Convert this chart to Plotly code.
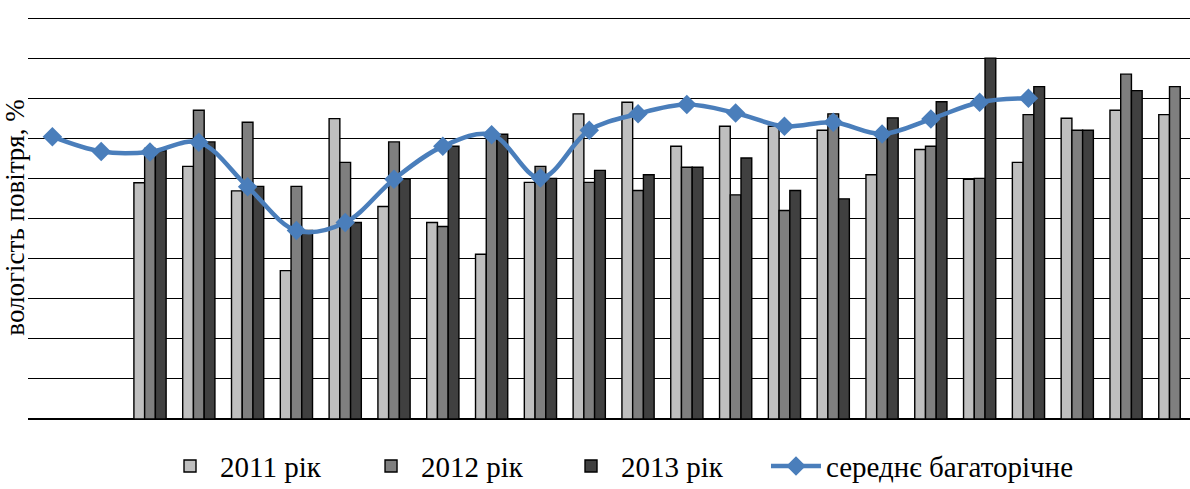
import plotly.graph_objects as go

# Periods (dekads) 1..24
periods = list(range(1, 25))

y2011 = [None, None, 58.9, 63.0, 56.9, 37.0, 74.9, 53.0, 49.0, 41.1, 59.0, 76.1,
         79.0, 68.0, 73.0, 73.0, 72.0, 60.9, 67.2, 59.8, 64.0, 75.0, 77.0, 75.9]
y2012 = [None, None, 67.5, 77.0, 74.0, 58.0, 64.0, 69.1, 48.0, 71.0, 63.0, 59.0,
         57.0, 62.8, 55.9, 52.0, 76.1, 71.5, 68.0, 60.0, 75.9, 72.0, 86.0, 82.9]
y2013 = [None, None, 66.9, 69.1, 58.0, 47.0, 49.0, 59.9, 68.0, 71.0, 60.0, 62.0,
         60.9, 62.8, 65.1, 57.0, 54.9, 75.1, 79.1, 90.0, 82.9, 72.0, 81.9, None]
mean_long = [70.4, 66.7, 66.6, 69.0, 57.9, 47.0, 49.0, 59.8, 68.0, 70.9, 60.1, 72.0,
             76.1, 78.4, 76.3, 73.0, 74.0, 71.1, 74.8, 79.0, 80.0, None, None, None]

names = ["2011 рік", "2012 рік", "2013 рік", "середнє багаторічне"]
bar_colors = ["#BFBFBF", "#7F7F7F", "#404040"]
line_color = "#4A7EBB"
font_family = "Liberation Serif"
legend_ids = ["legend", "legend2", "legend3", "legend4"]
legend_x = [0.1136, 0.2866, 0.4587, 0.6351]

fig = go.Figure()
for vals, nm, col, lg in zip([y2011, y2012, y2013], names[:3], bar_colors, legend_ids[:3]):
    fig.add_trace(go.Bar(x=periods, y=vals, name=nm, legend=lg,
                         marker=dict(color=col, line=dict(color="black", width=1.4))))

fig.add_trace(go.Scatter(x=periods, y=mean_long, name=names[3], mode="lines+markers",
                         legend=legend_ids[3],
                         line=dict(color=line_color, width=4.5, shape="spline", smoothing=1),
                         marker=dict(symbol="diamond", size=15, color=line_color)))

legend_common = dict(orientation="h", xanchor="left", y=-0.117, yanchor="middle",
                     font=dict(family=font_family, size=29, color="black"),
                     bgcolor="rgba(0,0,0,0)", itemwidth=50)
layout_legends = {lg: dict(x=lx, **legend_common) for lg, lx in zip(legend_ids, legend_x)}

fig.update_layout(
    width=1190, height=489,
    margin=dict(l=28, r=0, t=16, b=70, autoexpand=False),
    plot_bgcolor="white", paper_bgcolor="white",
    barmode="group", bargap=0.34, bargroupgap=0,
    font=dict(family=font_family, size=27, color="black"),
    showlegend=True,
    **layout_legends,
)
fig.update_xaxes(range=[0.5, 24.31], showticklabels=False, ticks="", showgrid=False,
                 showline=False, zeroline=False)
fig.update_yaxes(range=[0, 100.5], tick0=0, dtick=10, showticklabels=False, ticks="",
                 showgrid=True, gridcolor="black", gridwidth=1.3,
                 zeroline=True, zerolinecolor="black", zerolinewidth=1.5,
                 title=dict(text="вологість повітря, %", standoff=2,
                            font=dict(family=font_family, size=27, color="black")))

fig.write_html("out.html")
